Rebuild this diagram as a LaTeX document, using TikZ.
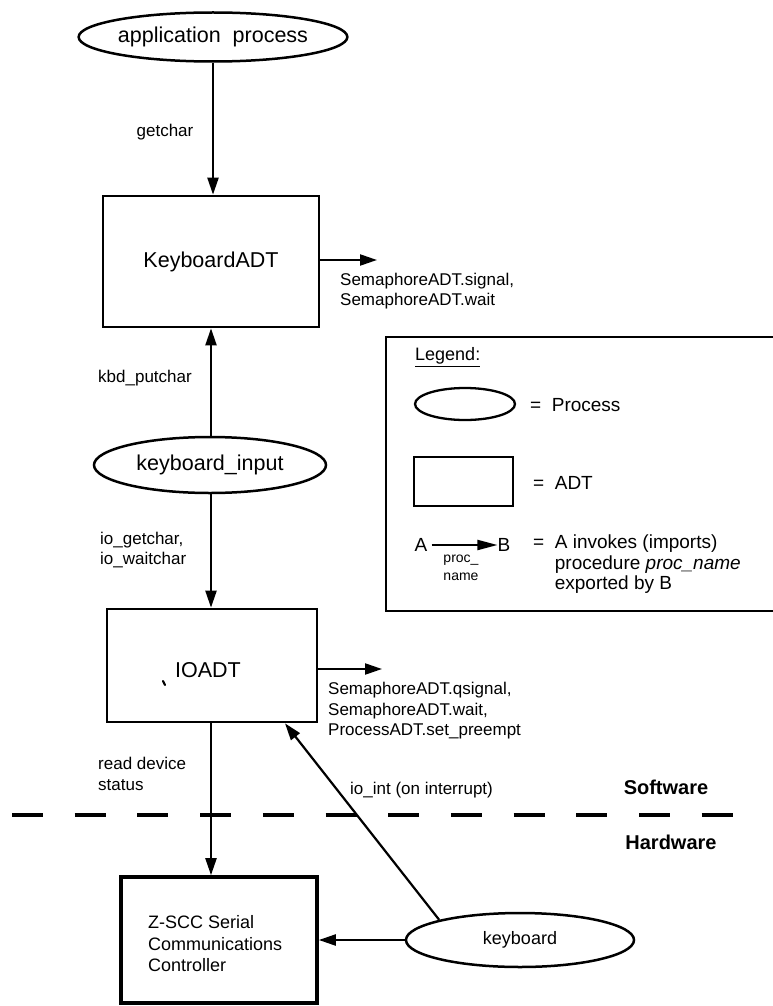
\documentclass[tikz,border=0pt]{standalone}
\usepackage{fontspec}
\setmainfont{Liberation Sans}
\usetikzlibrary{shapes.geometric,arrows.meta,calc}
\begin{document}
\begin{tikzpicture}[x=1pt,y=-1pt,
  proc/.style={draw,ellipse,line width=2.5pt,inner sep=0pt},
  adt/.style={draw,rectangle,line width=2.7pt,inner sep=0pt},
  conn/.style={line width=2.2pt,-{Triangle[length=17pt,width=11pt]}},
  big/.style={font=\fontsize{21.5}{25}\selectfont},
  lbl/.style={font=\fontsize{17}{20.5}\selectfont,inner sep=0pt,align=left},
  leg/.style={font=\fontsize{19}{20}\selectfont,inner sep=0pt,align=left},
  side/.style={font=\fontsize{20}{24}\selectfont\bfseries,inner sep=0pt}]
\useasboundingbox (0,0) rectangle (772,1006);
% nodes
\node[proc,big,minimum width=230pt,minimum height=49pt] (app) at (213,37) {application\ \ process};
\node[adt,big,minimum width=216pt,minimum height=131pt] (kbd) at (211,261.5) {KeyboardADT};
\node[proc,big,minimum width=232pt,minimum height=56pt] (kin) at (210,465) {keyboard\_input};
\node[adt,big,minimum width=210pt,minimum height=113pt] (io) at (212,665.5) {};
\node[big,inner sep=0pt] (iotext) at (208,670) {IOADT};
\node[adt,line width=3.6pt,minimum width=196pt,minimum height=126pt] (zscc) at (219,940) {};
\node[lbl,anchor=west,font=\fontsize{18}{21.5}\selectfont] (zscctext) at (148,944) {Z-SCC Serial\\Communications\\Controller};
\node[proc,font=\fontsize{18}{21}\selectfont,minimum width=228pt,minimum height=54pt] (keyb) at (520,940) {keyboard};
% free ends
\coordinate (kbdR) at (377,260);
\coordinate (ioR) at (382,669);
\coordinate (intT) at ($(io.south)+(73,0)$);
% connectors
\draw[conn] (app.south -| kbd.north) ++(2,0) -- ($(kbd.north)+(2,0)$);
\draw[conn] (kin.north -| kbd.south) -- (kbd.south);
\draw[conn] (kin.south -| io.north) ++(-1,0) -- ($(io.north)+(-1,0)$);
\draw[conn] ($(io.south)+(-1,0)$) -- ($(zscc.north)+(-8,0)$);
\draw[conn] (kbd.east |- kbdR) -- (kbdR);
\draw[conn] (io.east |- ioR) -- (ioR);
\draw[conn] (keyb.west) -- (keyb.west -| zscc.east);
\draw[conn] (keyb.166.5) -- (intT);
% artifact mark in IOADT
\draw[line width=2.2pt,line cap=round] (163,681) -- (165,685);
% labels
\node[lbl] (l1) at (165,132) {getchar};
\node[lbl,anchor=west] (l2) at (98,378) {kbd\_putchar};
\node[lbl,anchor=west] (l3) at (100,550) {io\_getchar,\\io\_waitchar};
\node[lbl,anchor=west] (l4) at (340,291) {SemaphoreADT.signal,\\SemaphoreADT.wait};
\node[lbl,anchor=west] (l5) at (328,711) {SemaphoreADT.qsignal,\\SemaphoreADT.wait,\\ProcessADT.set\_preempt};
\node[lbl,anchor=west] (l6) at (98,774) {read device\\status};
\node[lbl,anchor=west] (l7) at (350,790) {io\_int (on interrupt)};
\node[side] (sw) at (666,787) {Software};
\node[side] (hw) at (671,842) {Hardware};
% divider
\coordinate (dA) at (12,815);
\coordinate (dB) at (735,815);
\draw[line width=4.2pt,dash pattern=on 31pt off 31.7pt] (dA) -- (dB);
% legend
\draw[line width=2.4pt] (786,337) -- (386,337) -- (386,611) -- (786,611);
\node[leg,anchor=west,font=\fontsize{18}{20}\selectfont] (legt) at (415,357) {\underline{Legend:}};
\node[proc,line width=2.3pt,minimum width=100pt,minimum height=32pt] (lell) at (465,404) {};
\node[leg,anchor=west] (lp) at (530,405) {=\ \ Process};
\node[adt,line width=2.5pt,minimum width=99pt,minimum height=49pt] (lrect) at (463.5,481.5) {};
\node[leg,anchor=west] (la) at (533,483) {=\ \ ADT};
\node[leg] (lA) at (421,545) {A};
\node[leg] (lB) at (504,545) {B};
\draw[line width=2pt,-{Triangle[length=20pt,width=10pt]}] (lA.east) ++(4,0) -- ($(lB.west)+(0,0)$);
\node[lbl,align=center,font=\fontsize{14}{18}\selectfont] (lpn) at (461,568) {proc\_\\name};
\node[leg,anchor=north west,font=\fontsize{19}{20.5}\selectfont] (ldesc) at (533,535) {=\ \ A invokes (imports)\\\phantom{=\ \ }procedure \textit{proc\_name}\\\phantom{=\ \ }exported by B};
\end{tikzpicture}
\end{document}
